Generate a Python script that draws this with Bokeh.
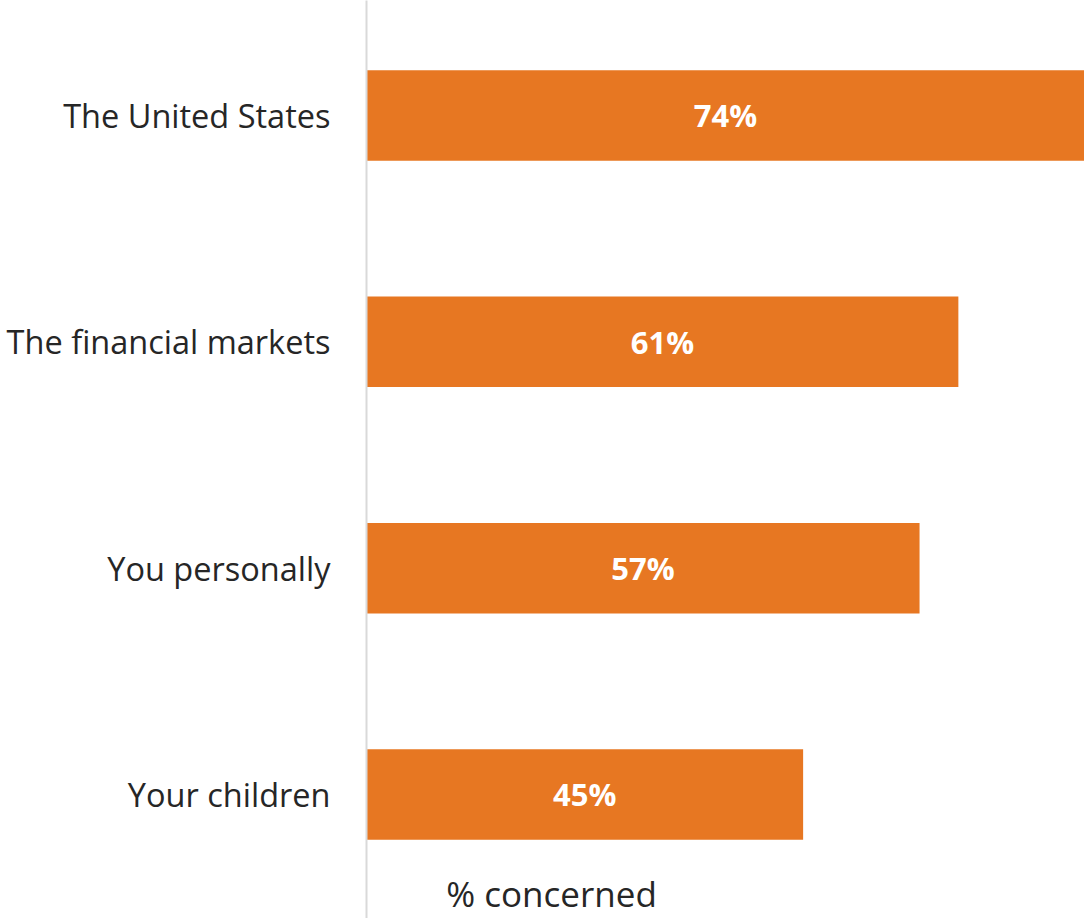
from bokeh.plotting import figure
from bokeh.models import Range1d, FixedTicker, ColumnDataSource, Label, LabelSet
from bokeh.core.properties import value
from bokeh.embed import file_html
from bokeh.resources import INLINE

categories = ["The United States", "The financial markets", "You personally", "Your children"]
values = [74, 61, 57, 45]
value_labels = ["74%", "61%", "57%", "45%"]
axis_title = "% concerned"

FONT = "Open Sans"
BAR_COLOR = "#E77722"
TEXT_COLOR = "#262626"

n = len(categories)
pos = list(range(n))
src = ColumnDataSource(dict(y=pos, v=values, half=[v / 2 for v in values], lab=value_labels))

p = figure(width=1084, height=918, output_backend="svg", toolbar_location=None,
           x_range=Range1d(0, max(values)),
           y_range=Range1d(start=(n - 1) + 0.5479, end=-0.5081),
           min_border_left=366, min_border_right=0, min_border_top=0, min_border_bottom=0)
p.outline_line_color = None
p.background_fill_color = "white"
p.border_fill_color = "white"
p.grid.visible = False
p.xaxis.visible = False

p.hbar(y="y", right="v", left=0, height=0.4, source=src, color=BAR_COLOR, line_color=None)

labels = LabelSet(x="half", y="y", text="lab", source=src, text_align="center",
                  text_baseline="middle", text_color="white", text_font_style="bold",
                  text_font=value(FONT), text_font_size="31px")
p.add_layout(labels)

yax = p.yaxis[0]
yax.ticker = FixedTicker(ticks=pos)
yax.major_label_overrides = {i: c for i, c in enumerate(categories)}
yax.major_tick_line_color = None
yax.minor_tick_line_color = None
yax.axis_line_color = "#d9d9d9"
yax.axis_line_width = 2
yax.major_label_text_font = FONT
yax.major_label_text_font_size = "32.5px"
yax.major_label_text_color = TEXT_COLOR
yax.major_label_standoff = 30

p.add_layout(Label(x=19.07, y=3.437, text=axis_title, text_align="center",
                   text_baseline="middle", text_font=FONT,
                   text_font_size="35px", text_color=TEXT_COLOR))

open("out.html", "w").write(file_html(p, INLINE))
